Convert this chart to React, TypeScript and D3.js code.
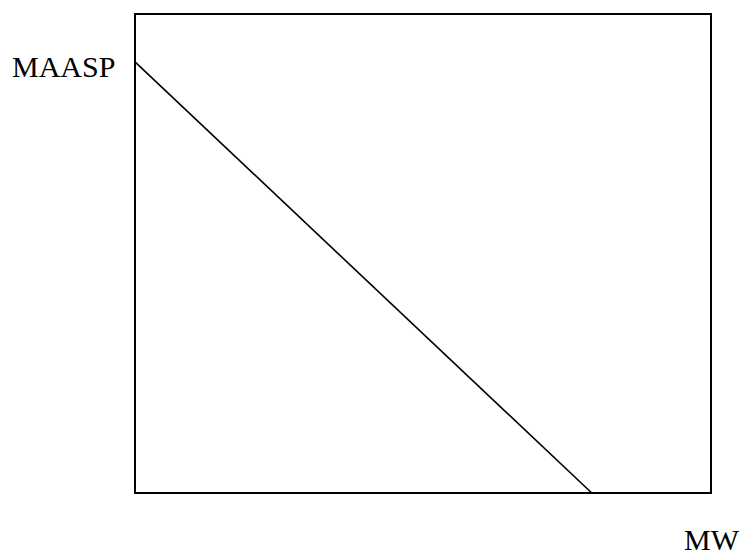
import React, {useEffect, useRef} from 'react';
import * as d3 from 'd3';

// line: MAASP falls as MW rises (percent of the axes)
const mwValues = [0, 79.3];
const maaspValues = [90, 0];
const axisLabels = ['MAASP', 'MW'];

const W = 742;
const H = 558;
const frame = {left: 135, top: 14, right: 711, bottom: 493};

export default function App() {
    const ref = useRef<SVGSVGElement>(null);

    useEffect(() => {
        const svg = d3.select(ref.current);
        svg.selectAll('*').remove();

        const x = d3.scaleLinear().domain([0, 100]).range([frame.left, frame.right]);
        const y = d3.scaleLinear().domain([0, 100]).range([frame.bottom, frame.top]);

        svg.append('rect')
            .attr('x', x(0))
            .attr('y', y(100))
            .attr('width', x(100) - x(0))
            .attr('height', y(0) - y(100))
            .attr('fill', 'none')
            .attr('stroke', 'black')
            .attr('stroke-width', 2);

        const pts: [number, number][] = mwValues.map((m, i) => [m, maaspValues[i]]);
        const line = d3.line<[number, number]>()
            .x(d => x(d[0]))
            .y(d => y(d[1]));

        svg.append('path')
            .attr('d', line(pts))
            .attr('fill', 'none')
            .attr('stroke', 'black')
            .attr('stroke-width', 1.6);

        svg.append('text')
            .attr('x', 12)
            .attr('y', 77)
            .attr('font-family', '"Liberation Serif", "Times New Roman", serif')
            .attr('font-size', 30)
            .text(axisLabels[0]);

        // sits at the very bottom, as in the reference
        svg.append('text')
            .attr('x', 739)
            .attr('y', 550)
            .attr('text-anchor', 'end')
            .attr('font-family', '"Liberation Serif", "Times New Roman", serif')
            .attr('font-size', 30)
            .text(axisLabels[1]);
    }, []);

    return (
        <svg ref={ref} width={W} height={H}
             style={{position: 'absolute', left: 0, top: 0, background: 'white'}} />
    );
}
